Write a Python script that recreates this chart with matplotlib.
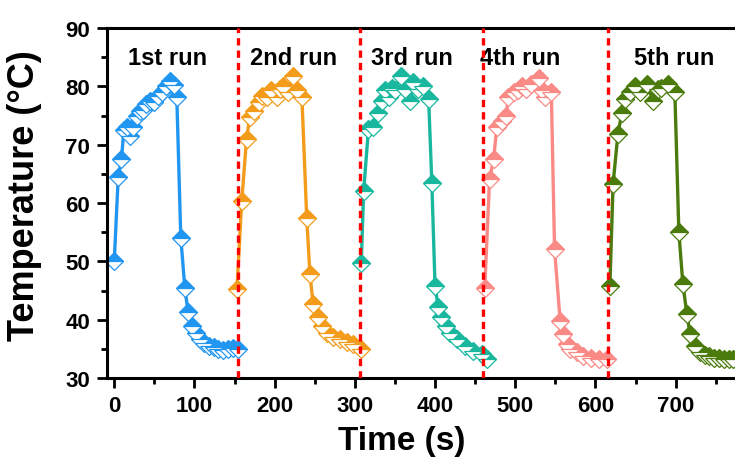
import matplotlib
matplotlib.use("Agg")
import matplotlib.pyplot as plt
from matplotlib.ticker import MultipleLocator

plt.rcParams['font.family'] = ['Liberation Sans', 'DejaVu Sans']
plt.rcParams['font.weight'] = 'bold'

# heating / cooling cycles, time (s) and temperature (°C)
t1 = [0, 5, 9, 12, 16, 20, 24, 28, 32, 36, 40, 45, 50, 55, 60, 65, 70, 74, 78,
      83, 88, 92, 97, 102, 107, 112, 118, 124, 130, 136, 142, 148, 154]
T1 = [50, 64.5, 67.5, 72.5, 73, 71.5, 73, 75, 75.8, 76, 77, 77.5, 77.3, 78.4, 79, 80, 81, 80.3, 78.2,
      54, 45.5, 41.3, 39, 37.8, 36.7, 36, 35.5, 35.3, 35, 34.8, 35, 35.2, 35]

t2 = [153, 159, 165, 169, 174, 180, 184, 190, 196, 203, 207, 211, 217, 223, 228, 234,
      240, 244, 248, 254, 259, 265, 273, 282, 290, 298, 308]
T2 = [45.3, 60.4, 71, 74.7, 75.8, 77.3, 78.4, 78.1, 79.3, 78.1, 79.5, 80.1, 79, 81.8, 79.3, 78.1,
      57.5, 47.8, 42.7, 40.4, 39, 37.8, 37, 36.7, 36.1, 35.8, 35]

t3 = [308, 311, 317, 323, 329, 334, 338, 342, 346, 350, 358, 363, 369, 373, 379, 385, 392,
      396, 400, 404, 408, 414, 419, 427, 437, 447, 458, 465]
T3 = [49.8, 62.1, 72.7, 73, 75.5, 77.5, 79.3, 78.1, 79.8, 79.3, 81.8, 79.5, 77.5, 80.7, 79.5, 80.1, 77.8,
      63.5, 45.8, 42.1, 40.4, 39, 37.8, 36.7, 35.5, 34.7, 34.1, 33.3]

t4 = [462, 468, 473, 477, 483, 489, 491, 498, 504, 508, 514, 520, 529, 533, 537, 545,
      549, 556, 560, 564, 568, 577, 585, 595, 605, 615]
T4 = [45.5, 64.1, 67.5, 73, 74.1, 75, 78.1, 79, 79.3, 80.1, 79.5, 80.4, 81.5, 79.3, 78.1, 79,
      52.1, 39.8, 37.5, 35.8, 35, 34.4, 33.8, 33.5, 33.3, 33.3]

t5 = [618, 622, 628, 633, 637, 643, 649, 656, 664, 672, 678, 682, 691, 699,
      704, 709, 714, 718, 724, 730, 736, 742, 748, 754, 760, 766, 772]
T5 = [45.8, 63.3, 71.8, 75.5, 77.8, 79, 80.1, 79, 80.4, 77.5, 79.5, 79.8, 80.4, 79,
      55, 46.1, 41, 37.5, 35.5, 34.4, 34, 33.8, 33.5, 33.5, 33.3, 33.3, 33.2]

run_times = [t1, t2, t3, t4, t5]
run_temps = [T1, T2, T3, T4, T5]
run_colors = ['#2196F0', '#F39C1C', '#19B89E', '#F98A86', '#4B7B0D']
run_labels = ['1st run', '2nd run', '3rd run', '4th run', '5th run']
label_x = [66, 223, 371, 506, 698]
dividers = [154, 306, 460, 616]

fig = plt.figure(figsize=(7.35, 4.64), dpi=100)
ax = fig.add_axes([0.1456, 0.183, 0.8544, 0.7545])

for t, T, c in zip(run_times, run_temps, run_colors):
    ax.plot(t, T, color=c, linewidth=2.4, marker='D', markersize=9,
            fillstyle='top', markerfacecolor=c, markerfacecoloralt='white',
            markeredgecolor=c, markeredgewidth=0.9)

for x in dividers:
    ax.axvline(x, color='red', linestyle=(0, (2.2, 1.5)), linewidth=2.4, zorder=5)

for x, s in zip(label_x, run_labels):
    ax.text(x, 85, s, ha='center', va='center', fontsize=17, fontweight='bold')

ax.set_xlim(-9, 774)
ax.set_ylim(30, 90)
ax.xaxis.set_major_locator(MultipleLocator(100))
ax.xaxis.set_minor_locator(MultipleLocator(50))
ax.yaxis.set_major_locator(MultipleLocator(10))
ax.yaxis.set_minor_locator(MultipleLocator(5))
ax.tick_params(which='major', direction='out', length=7, width=2, labelsize=16, pad=5)
ax.tick_params(which='minor', direction='out', length=4, width=2)
for lab in ax.get_xticklabels() + ax.get_yticklabels():
    lab.set_fontweight('bold')

for side in ['left', 'bottom', 'top']:
    ax.spines[side].set_linewidth(2.2)
ax.spines['right'].set_visible(False)

ax.set_xlabel('Time (s)', fontsize=24, fontweight='bold')
ax.set_ylabel('Temperature (°C)', fontsize=26, fontweight='bold')
ax.xaxis.set_label_coords(0.47, -0.135)
ax.yaxis.set_label_coords(-0.104, 0.524)

fig.savefig('out.png', dpi=100)
